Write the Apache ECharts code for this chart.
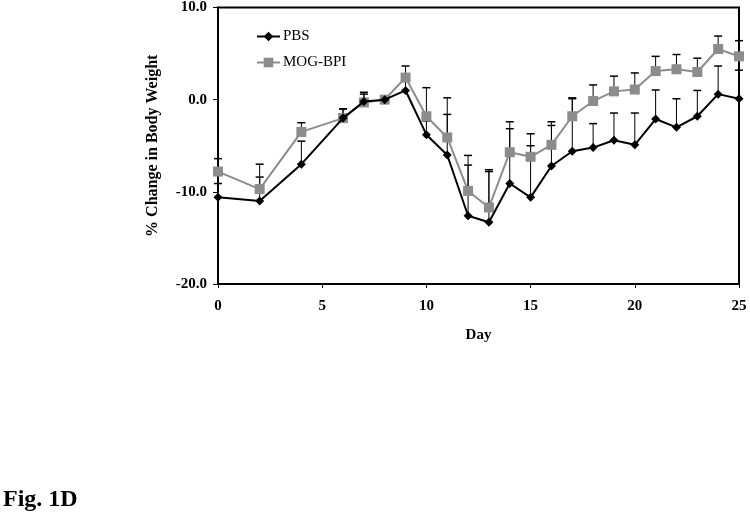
<!DOCTYPE html>
<html><head><meta charset="utf-8">
<script src="https://cdn.jsdelivr.net/npm/echarts@6/dist/echarts.min.js"></script>
<style>html,body{margin:0;padding:0;background:#fff}#c{width:750px;height:521px}</style>
</head><body><div id="c"></div>
<script>
var days = [0,2,4,6,7,8,9,10,11,12,13,14,15,16,17,18,19,20,21,22,23,24,25];
var pbs = [-10.6,-11.0,-7.0,-2.0,-0.2,0.0,1.0,-3.8,-6.0,-12.6,-13.3,-9.1,-10.6,-7.2,-5.6,-5.2,-4.4,-4.9,-2.1,-3.0,-1.8,0.6,0.1];
var pbsErr = [1.5,2.6,2.5,1.0,1.0,0.3,1.0,1.5,4.4,6.55,5.5,5.95,5.6,4.4,5.8,2.6,2.95,3.45,3.15,3.1,2.8,3.05,3.1];
var mog = [-7.8,-9.7,-3.5,-2.0,-0.3,0.0,2.4,-1.8,-4.1,-9.9,-11.7,-5.7,-6.2,-4.9,-1.8,-0.15,0.9,1.1,3.1,3.3,3.0,5.5,4.7];
var mogErr = [1.4,2.7,1.0,1.0,0.9,0.3,1.25,3.1,4.3,2.8,4.1,3.3,2.5,2.5,1.9,1.75,1.65,1.8,1.6,1.6,1.5,1.4,1.7];
var yTicks = [-20,-10,0,10];
var xTicks = [0,5,10,15,20,25];

var FONT = 'Liberation Serif';
function pairs(v){ return days.map(function(d,i){ return [d, v[i]]; }); }
function errData(v,e){ return days.map(function(d,i){ return [d, v[i], v[i]+e[i]]; }); }
function errRender(params, api){
  var x = api.value(0), lo = api.coord([x, api.value(1)]), hi = api.coord([x, api.value(2)]);
  var w = 4;
  return {type:'group', children:[
    {type:'line', shape:{x1:lo[0],y1:lo[1],x2:hi[0],y2:hi[1]}, style:{stroke:'#000',lineWidth:1}},
    {type:'line', shape:{x1:hi[0]-w,y1:hi[1],x2:hi[0]+w,y2:hi[1]}, style:{stroke:'#000',lineWidth:1.5}}
  ]};
}
var chart = echarts.init(document.getElementById('c'), null, {renderer:'canvas'});
chart.setOption({
  animation:false,
  backgroundColor:'#fff',
  grid:{left:218, right:11, top:7, bottom:237, show:true, borderColor:'#000', borderWidth:2},
  legend:{
    orient:'vertical', left:251, top:24, itemGap:11, itemWidth:23, itemHeight:12,
    textStyle:{fontFamily:FONT, fontSize:15, color:'#000', padding:[0,0,0,-2]},
    data:['PBS','MOG-BPI']
  },
  xAxis:{
    type:'value', min:0, max:25, interval:5,
    name:'Day', nameLocation:'middle', nameGap:44,
    nameTextStyle:{fontFamily:FONT, fontWeight:'bold', fontSize:15, color:'#000'},
    axisLine:{onZero:false, lineStyle:{color:'#000', width:2}},
    axisTick:{show:true, inside:false, length:4, lineStyle:{color:'#000', width:1}},
    axisLabel:{fontFamily:FONT, fontWeight:'bold', fontSize:15, color:'#000', margin:15,
      customValues:xTicks},
    splitLine:{show:false}
  },
  yAxis:{
    type:'value', min:-20, max:10, interval:10,
    name:'% Change in Body Weight', nameLocation:'middle', nameGap:57,
    nameTextStyle:{fontFamily:FONT, fontWeight:'bold', fontSize:16, color:'#000'},
    axisLine:{show:true, lineStyle:{color:'#000', width:2}},
    axisTick:{show:true, inside:false, length:5, lineStyle:{color:'#000', width:1}},
    axisLabel:{fontFamily:FONT, fontWeight:'bold', fontSize:15, color:'#000', margin:11,
      formatter:function(v){ return v.toFixed(1); }},
    splitLine:{show:false}
  },
  series:[
    {name:'PBS err', type:'custom', renderItem:errRender, data:errData(pbs,pbsErr), encode:{x:0,y:[1,2]}, z:1, clip:false},
    {name:'MOG err', type:'custom', renderItem:errRender, data:errData(mog,mogErr), encode:{x:0,y:[1,2]}, z:1, clip:false},
    {name:'PBS', type:'line', data:pairs(pbs), symbol:'diamond', symbolSize:9,
      lineStyle:{color:'#000', width:2}, itemStyle:{color:'#000'}, z:3},
    {name:'MOG-BPI', type:'line', data:pairs(mog), symbol:'rect', symbolSize:10,
      lineStyle:{color:'#8c8c8c', width:2}, itemStyle:{color:'#8c8c8c'}, z:2}
  ],
  graphic:[{type:'text', left:3, top:488, style:{text:'Fig. 1D', fontFamily:FONT, fontWeight:'bold', fontSize:24, fill:'#000'}}]
});
</script></body></html>
